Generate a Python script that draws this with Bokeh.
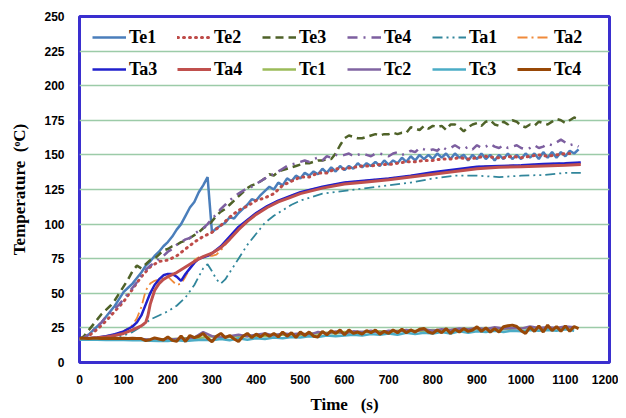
from bokeh.plotting import figure
from bokeh.models import Legend, LegendItem, FixedTicker, Range1d
from bokeh.embed import file_html
from bokeh.resources import INLINE

# ---------------- data ----------------
t10 = list(range(0, 1140, 10))   # 0..1130 s
t20 = list(range(0, 1140, 20))   # 0..1120 s

Te1 = [17, 18, 20, 23, 26, 29, 33, 37, 41, 46,
       51, 54, 57, 61, 65, 70, 73, 77, 80, 84,
       87, 91, 96, 100, 106, 112, 116, 123, 128, 134,
       94, 97, 99, 101, 105, 104, 108, 111, 114, 118,
       117, 121, 124, 127, 125, 130, 128, 133, 131, 135,
       133, 137, 135, 138, 136, 140, 137, 141, 138, 142,
       139, 142, 140, 144, 141, 144, 142, 145, 142, 146,
       143, 146, 144, 148, 145, 149, 146, 150, 147, 150,
       147, 151, 148, 151, 147, 151, 148, 150, 146, 150,
       147, 151, 147, 150, 146, 150, 147, 151, 147, 150,
       147, 151, 148, 151, 147, 152, 148, 152, 148, 152,
       149, 153, 151, 154]

Te2 = [17, 19, 24, 30, 37, 44, 53, 62, 69, 73,
       74, 77, 82, 87, 91, 94, 99, 105, 110, 113,
       117, 119, 122, 128, 131, 134, 134, 137, 137, 140,
       140, 141, 142, 142, 143, 143, 144, 145, 145, 146,
       146, 147, 147, 148, 147, 148, 149, 148, 148, 149,
       148, 149, 150, 149, 150, 151, 151]

Te3 = [17, 19, 23, 27, 31, 35, 38, 41, 45, 50,
       55, 60, 66, 70, 68, 71, 74, 75, 78, 81,
       82, 84, 85, 87, 88, 90, 92, 94, 97, 99,
       102, 106, 109, 111, 114, 117, 120, 123, 126, 128,
       129, 131, 133, 136, 135, 138, 139, 140, 141, 142,
       143, 144, 144, 145, 146, 146, 147, 147, 151, 157,
       162, 164, 163, 162, 162, 163, 164, 165, 164, 165,
       165, 166, 165, 166, 166, 170, 169, 168, 171, 169,
       171, 170, 171, 168, 172, 172, 170, 167, 170, 172,
       173, 171, 174, 175, 172, 171, 174, 172, 175, 174,
       171, 170, 172, 171, 174, 173, 172, 174, 176, 175,
       173, 175, 177, 176]

Te4 = [17, 18, 20, 23, 26, 29, 33, 36, 39, 42,
       46, 50, 54, 58, 63, 67, 70, 72, 75, 77,
       80, 82, 85, 87, 89, 90, 93, 95, 97, 100,
       104, 107, 111, 114, 117, 120, 122, 124, 126, 127,
       129, 131, 133, 135, 136, 138, 140, 142, 143, 144,
       145, 146, 145, 147, 148, 146, 149, 148, 150, 149,
       150, 151, 149, 150, 151, 150, 149, 151, 151, 150,
       149, 151, 152, 150, 151, 153, 152, 155, 154, 153,
       154, 153, 156, 154, 155, 157, 155, 154, 156, 154,
       157, 155, 156, 158, 156, 155, 157, 155, 156, 157,
       155, 154, 155, 157, 155, 156, 158, 157, 159, 161,
       159, 157, 158, 156]

Ta1_t = [0, 20, 40, 60, 80, 100, 120, 140, 160, 180,
         200, 220, 240, 260, 270, 280, 290, 300, 310, 320,
         330, 340, 360, 380, 400, 420, 440, 460, 480, 500,
         550, 600, 650, 700, 750, 800, 850, 900, 950, 1000,
         1050, 1100, 1135]
Ta1 = [17, 17.2, 17.5, 18, 18.5, 19.5, 22, 26, 31, 34,
       37, 41, 47, 56, 62, 68, 71, 66, 60, 57,
       60, 65, 75, 85, 93, 101, 106, 110, 114, 117,
       122, 124, 126, 128, 130, 133, 135, 135, 134, 135,
       135.5, 137, 137]

Ta2_t = [0, 20, 40, 60, 80, 100, 120, 130, 140, 150,
         160, 170, 180, 190, 200, 210, 220, 230, 240, 250,
         260, 270, 280, 290, 300, 310, 320, 330, 340, 360,
         380, 400, 450, 500, 550, 600, 700, 800, 900, 1000,
         1100, 1135]
Ta2 = [17, 17.5, 18, 19, 20.5, 22.5, 27, 32, 40, 52,
       57, 59, 60, 61, 62, 59, 56, 57, 62, 68,
       74, 76, 76.5, 77, 77, 78, 81, 85, 89, 97,
       103, 108, 117, 123, 127, 130, 133, 137, 141.5, 142.5,
       144, 144.5]

Ta3_t = [0, 20, 40, 60, 80, 100, 120, 130, 140, 150,
         160, 170, 180, 190, 200, 210, 220, 230, 240, 250,
         260, 270, 280, 290, 300, 320, 340, 360, 380, 400,
         425, 450, 475, 500, 550, 600, 650, 700, 750, 800,
         850, 900, 950, 1000, 1050, 1100, 1135]
Ta3 = [17, 17.5, 18, 19, 20.5, 22.5, 26, 29, 34, 42,
       50, 56, 60, 63, 64, 64, 62, 59, 64, 68,
       72, 75, 76, 77, 79, 84, 91, 98, 103, 108,
       113, 117, 120, 123, 127, 130, 131.5, 133, 135, 137.5,
       139.5, 141.5, 142, 142.5, 143.5, 144, 144.5]

Ta4_t = [0, 20, 40, 60, 80, 100, 120, 140, 150, 155,
         160, 170, 180, 190, 200, 220, 240, 260, 280, 300,
         320, 340, 360, 380, 400, 425, 450, 475, 500, 550,
         600, 650, 700, 750, 800, 850, 900, 950, 1000, 1050,
         1100, 1135]
Ta4 = [17, 17.3, 17.8, 18.5, 19.5, 21, 23.5, 26.5, 29, 34,
       42, 52, 57, 60, 62, 65, 69, 73, 76.5, 79,
       83, 89, 96, 102, 107, 112, 116, 119, 122, 126,
       129, 130.5, 132, 134, 136, 138, 140, 141, 141.5, 142,
       142.5, 143]

Tc1 = [17, 17, 17, 17, 17, 17, 17, 16.8, 16.5, 16.5,
       17, 17, 17.5, 17.5, 18, 19, 18, 18.5, 19, 19,
       19.5, 19, 20, 20, 20.5, 20, 21, 21, 21.5, 21,
       22, 21.5, 22, 22, 22.5, 22, 23, 22.5, 23, 23,
       23.5, 23, 23.5, 24, 23.5, 24, 24, 24.5, 24, 24.5,
       25, 24.5, 25, 24.5, 25, 24.5, 25]

Tc2 = [17, 17, 17, 17, 17, 17, 17, 17, 16.5, 16.5,
       16.5, 17, 17, 18, 22, 19, 18, 19, 20, 19,
       20, 21, 19.5, 21, 20.5, 21, 20, 22, 21, 22.5,
       21, 22.5, 22, 23, 21.5, 23, 22.5, 23.5, 22.5, 24,
       23, 24, 23.5, 24.5, 24, 25, 24, 25.5, 24.5, 25,
       24.5, 26, 25, 25.5, 25, 26, 25.5]

Tc3 = [16.5, 16.5, 16.5, 16.3, 16.3, 16.2, 16, 16, 15.8, 15.5,
       15.5, 16, 15.5, 16, 16.5, 16, 17, 16, 17.5, 16.5,
       17.5, 17, 18, 17.5, 18.5, 18, 19, 18.5, 19.5, 19,
       19.5, 20, 19.5, 20.5, 20, 21, 20, 21.5, 20.5, 21.5,
       21, 22, 21, 22.5, 21.5, 22.5, 22, 23, 22, 23,
       22.5, 23.5, 23, 23.5, 23, 24, 23]

Tc4 = [17.5, 17.5, 17.3, 17.5, 17.6, 17.4, 17.5, 17.3, 17.5, 17.4,
       17.6, 17.3, 17.5, 17.4, 17.3, 15.8, 16.5, 17.8, 17.0, 16.2,
       18.5, 16.0, 15.3, 19.2, 15.2, 19.5, 18.0, 19.0, 21.0, 17.5,
       15.0, 19.0, 21.0, 18.0, 19.5, 17.0, 15.2, 19.0, 21.0, 18.0,
       20.5, 18.5, 21.0, 19.0, 21.0, 18.5, 22.0, 19.0, 21.5, 18.0,
       22.0, 19.5, 22.0, 19.0, 18.5, 22.5, 20.0, 23.0, 21.0, 23.5,
       20.0, 23.5, 21.0, 22.0, 20.5, 23.0, 21.5, 23.5, 20.5, 22.5,
       21.0, 23.5, 21.5, 24.0, 21.5, 23.5, 22.0, 24.0, 24.6, 22.0,
       21.0, 23.5, 21.5, 24.5, 21.0, 24.0, 22.0, 24.5, 22.5, 23.5,
       25.8, 22.5, 25.0, 22.0, 24.5, 22.0, 25.8, 26.5, 27.0, 26.0,
       23.0, 21.0, 25.5, 22.5, 26.5, 22.0, 27.0, 23.0, 26.0, 22.5,
       26.5, 22.5, 26.0, 24.5]

x_ticks = [0, 100, 200, 300, 400, 500, 600, 700, 800, 900, 1000, 1100, 1200]
y_ticks = [0, 25, 50, 75, 100, 125, 150, 175, 200, 225, 250]

series = [
    ("Te1", t10, Te1, dict(line_color="#4A7EBB", line_width=2.5)),
    ("Te2", t20, Te2, dict(line_color="#BE4B48", line_width=3, line_dash="1 5", line_cap="round")),
    ("Te3", t10, Te3, dict(line_color="#4F6228", line_width=2.5, line_dash="8 5")),
    ("Te4", t10, Te4, dict(line_color="#7D5FA0", line_width=2.5, line_dash="10 6 2 6")),
    ("Ta1", Ta1_t, Ta1, dict(line_color="#31869B", line_width=1.8, line_dash="10 4 2 4 2 4")),
    ("Ta2", Ta2_t, Ta2, dict(line_color="#F08A3A", line_width=1.8, line_dash="10 4 2 4")),
    ("Ta3", Ta3_t, Ta3, dict(line_color="#2020CC", line_width=2.5)),
    ("Ta4", Ta4_t, Ta4, dict(line_color="#C0504D", line_width=3)),
    ("Tc1", t20, Tc1, dict(line_color="#9BBB59", line_width=2.5)),
    ("Tc2", t20, Tc2, dict(line_color="#8064A2", line_width=2.5)),
    ("Tc3", t20, Tc3, dict(line_color="#4BACC6", line_width=2.5)),
    ("Tc4", t10, Tc4, dict(line_color="#984807", line_width=3)),
]

# ---------------- figure ----------------
p = figure(width=618, height=418, output_backend="svg", toolbar_location=None,
           x_range=Range1d(0, 1200), y_range=Range1d(0, 250),
           min_border_left=79, min_border_right=9, min_border_top=16, min_border_bottom=56)

p.background_fill_color = "white"
p.border_fill_color = "white"
p.outline_line_color = "#3A2FCF"
p.outline_line_width = 3

p.xgrid.grid_line_color = None
p.ygrid.grid_line_color = "#9CCBA8"
p.ygrid.grid_line_width = 1.5

p.xaxis.ticker = FixedTicker(ticks=x_ticks)
p.yaxis.ticker = FixedTicker(ticks=y_ticks)
for ax in (p.xaxis[0], p.yaxis[0]):
    ax.axis_line_color = None
    ax.major_tick_line_color = None
    ax.minor_tick_line_color = None
    ax.major_tick_out = 0
    ax.major_tick_in = 0
    ax.major_label_text_font = "Liberation Sans"
    ax.major_label_text_font_style = "bold"
    ax.major_label_text_font_size = "12px"
    ax.major_label_text_color = "black"
    ax.axis_label_text_font = "Liberation Serif"
    ax.axis_label_text_font_style = "bold"
    ax.axis_label_text_color = "black"

p.xaxis.major_label_standoff = 12
p.yaxis.major_label_standoff = 15
p.xaxis.axis_label = "Time\u00a0\u00a0\u00a0(s)"
p.xaxis.axis_label_text_font_size = "17px"
p.xaxis.axis_label_standoff = 8
p.yaxis.axis_label = "Temperature\u00a0\u00a0(\u1d52C)"
p.yaxis.axis_label_text_font_size = "17px"
p.yaxis.axis_label_standoff = 12

items = []
for name, xs, ys, style in series:
    n = min(len(xs), len(ys))
    r = p.line(xs[:n], ys[:n], **style)
    items.append(LegendItem(label=name, renderers=[r]))

legend = Legend(items=items, orientation="horizontal", ncols=6,
                location=(13, 277), margin=0, padding=0, spacing=0,
                glyph_width=34, glyph_height=32, label_height=32, label_width=48,
                label_standoff=3,
                label_text_font="Liberation Serif", label_text_font_style="bold",
                label_text_font_size="18px", label_text_color="black",
                border_line_color=None, background_fill_alpha=0)
p.add_layout(legend, "center")

open("out.html", "w").write(file_html(p, INLINE))
